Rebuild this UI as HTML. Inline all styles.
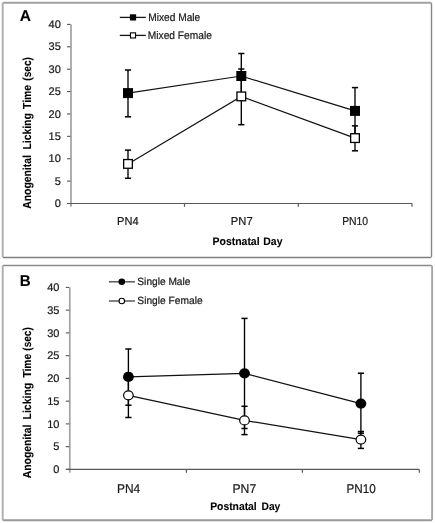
<!DOCTYPE html>
<html><head><meta charset="utf-8"><title>Anogenital Licking Time</title>
<style>
html,body{margin:0;padding:0;background:#fff;}
body{width:435px;height:523px;overflow:hidden;}
svg{display:block;font-family:"Liberation Sans", sans-serif;will-change:transform;text-rendering:geometricPrecision;}
text{white-space:pre;}
.r{stroke:#1a1a1a;stroke-width:0.22px;}
.b{stroke:#000;stroke-width:0.1px;}
</style></head><body>
<svg width="435" height="523" viewBox="0 0 435 523">
<rect x="0" y="0" width="435" height="523" fill="#fff"/>
<line x1="2.7" y1="3.6" x2="2.7" y2="256.5" stroke="#adadad" stroke-width="1.9" stroke-linecap="round"/>
<line x1="3.6" y1="2.8" x2="430.6" y2="2.8" stroke="#a2a2a2" stroke-width="1.9" stroke-linecap="round"/>
<line x1="431.5" y1="3.6" x2="431.5" y2="256.6" stroke="#868686" stroke-width="1.4" stroke-linecap="round"/>
<line x1="3.6" y1="257.5" x2="430.6" y2="257.5" stroke="#7e7e7e" stroke-width="1.4" stroke-linecap="round"/>
<text transform="translate(25.31,20.8) scale(1.0005,1)" text-anchor="middle" font-size="15.5" font-weight="bold" fill="#000" class="b">A</text>
<line x1="71" y1="24.4" x2="71" y2="206.8" stroke="#a6a6a6" stroke-width="1.8"/>
<line x1="67" y1="203.50" x2="70.5" y2="203.50" stroke="#555" stroke-width="1.1"/>
<text x="60.8" y="207.10" font-size="11" text-anchor="end" fill="#1a1a1a" class="r">0</text>
<line x1="67" y1="181.11" x2="70.5" y2="181.11" stroke="#555" stroke-width="1.1"/>
<text x="60.8" y="184.71" font-size="11" text-anchor="end" fill="#1a1a1a" class="r">5</text>
<line x1="67" y1="158.72" x2="70.5" y2="158.72" stroke="#555" stroke-width="1.1"/>
<text x="60.8" y="162.32" font-size="11" text-anchor="end" fill="#1a1a1a" class="r">10</text>
<line x1="67" y1="136.34" x2="70.5" y2="136.34" stroke="#555" stroke-width="1.1"/>
<text x="60.8" y="139.94" font-size="11" text-anchor="end" fill="#1a1a1a" class="r">15</text>
<line x1="67" y1="113.95" x2="70.5" y2="113.95" stroke="#555" stroke-width="1.1"/>
<text x="60.8" y="117.55" font-size="11" text-anchor="end" fill="#1a1a1a" class="r">20</text>
<line x1="67" y1="91.56" x2="70.5" y2="91.56" stroke="#555" stroke-width="1.1"/>
<text x="60.8" y="95.16" font-size="11" text-anchor="end" fill="#1a1a1a" class="r">25</text>
<line x1="67" y1="69.18" x2="70.5" y2="69.18" stroke="#555" stroke-width="1.1"/>
<text x="60.8" y="72.78" font-size="11" text-anchor="end" fill="#1a1a1a" class="r">30</text>
<line x1="67" y1="46.79" x2="70.5" y2="46.79" stroke="#555" stroke-width="1.1"/>
<text x="60.8" y="50.39" font-size="11" text-anchor="end" fill="#1a1a1a" class="r">35</text>
<line x1="67" y1="24.40" x2="70.5" y2="24.40" stroke="#555" stroke-width="1.1"/>
<text x="60.8" y="28.00" font-size="11" text-anchor="end" fill="#1a1a1a" class="r">40</text>
<line x1="67.2" y1="203.5" x2="412" y2="203.5" stroke="#5a5a5a" stroke-width="1.2"/>
<line x1="184.5" y1="203.5" x2="184.5" y2="206.8" stroke="#5a5a5a" stroke-width="1.2"/>
<line x1="298.3" y1="203.5" x2="298.3" y2="206.8" stroke="#5a5a5a" stroke-width="1.2"/>
<line x1="412" y1="203.5" x2="412" y2="206.8" stroke="#5a5a5a" stroke-width="1.2"/>
<text transform="translate(127.83,224.8) scale(0.9634,1)" text-anchor="middle" font-size="11.5" fill="#1a1a1a" class="r">PN4</text>
<text transform="translate(241.73,224.8) scale(0.9709,1)" text-anchor="middle" font-size="11.5" fill="#1a1a1a" class="r">PN7</text>
<text transform="translate(355.12,224.8) scale(0.9023,1)" text-anchor="middle" font-size="11.5" fill="#1a1a1a" class="r">PN10</text>
<text transform="translate(236.05,244.9) scale(0.9508,1)" text-anchor="middle" font-size="11" font-weight="bold" fill="#000" class="b">Postnatal</text>
<text transform="translate(272.88,244.9) scale(0.9490,1)" text-anchor="middle" font-size="11" font-weight="bold" fill="#000" class="b">Day</text>
<text transform="translate(31.2,208.70) rotate(-90)" font-size="11.6" font-weight="bold" fill="#000" class="b" textLength="53.50" lengthAdjust="spacingAndGlyphs">Anogenital</text>
<text transform="translate(31.2,149.60) rotate(-90)" font-size="11.6" font-weight="bold" fill="#000" class="b" textLength="36.40" lengthAdjust="spacingAndGlyphs">Licking</text>
<text transform="translate(31.2,109.00) rotate(-90)" font-size="11.6" font-weight="bold" fill="#000" class="b" textLength="24.00" lengthAdjust="spacingAndGlyphs">Time</text>
<text transform="translate(31.2,80.70) rotate(-90)" font-size="11.6" font-weight="bold" fill="#000" class="b" textLength="23.70" lengthAdjust="spacingAndGlyphs">(sec)</text>
<polyline points="128,93.1 241.3,76 355,110.9" fill="none" stroke="#111" stroke-width="1.2"/>
<polyline points="128,163.9 241.3,96.4 355,138.1" fill="none" stroke="#111" stroke-width="1.2"/>
<line x1="128" y1="70" x2="128" y2="116.8" stroke="#000" stroke-width="1.35"/>
<line x1="124.9" y1="70" x2="131.1" y2="70" stroke="#000" stroke-width="1.5"/>
<line x1="124.9" y1="116.8" x2="131.1" y2="116.8" stroke="#000" stroke-width="1.5"/>
<line x1="241.3" y1="53.5" x2="241.3" y2="98.5" stroke="#000" stroke-width="1.35"/>
<line x1="238.20000000000002" y1="53.5" x2="244.4" y2="53.5" stroke="#000" stroke-width="1.5"/>
<line x1="238.20000000000002" y1="98.5" x2="244.4" y2="98.5" stroke="#000" stroke-width="1.5"/>
<line x1="355" y1="87.6" x2="355" y2="134" stroke="#000" stroke-width="1.35"/>
<line x1="351.9" y1="87.6" x2="358.1" y2="87.6" stroke="#000" stroke-width="1.5"/>
<line x1="351.9" y1="134" x2="358.1" y2="134" stroke="#000" stroke-width="1.5"/>
<line x1="128" y1="150.1" x2="128" y2="178.3" stroke="#000" stroke-width="1.35"/>
<line x1="124.9" y1="150.1" x2="131.1" y2="150.1" stroke="#000" stroke-width="1.5"/>
<line x1="124.9" y1="178.3" x2="131.1" y2="178.3" stroke="#000" stroke-width="1.5"/>
<line x1="241.3" y1="69" x2="241.3" y2="124.7" stroke="#000" stroke-width="1.35"/>
<line x1="238.20000000000002" y1="69" x2="244.4" y2="69" stroke="#000" stroke-width="1.5"/>
<line x1="238.20000000000002" y1="124.7" x2="244.4" y2="124.7" stroke="#000" stroke-width="1.5"/>
<line x1="355" y1="125.9" x2="355" y2="150.8" stroke="#000" stroke-width="1.35"/>
<line x1="351.9" y1="125.9" x2="358.1" y2="125.9" stroke="#000" stroke-width="1.5"/>
<line x1="351.9" y1="150.8" x2="358.1" y2="150.8" stroke="#000" stroke-width="1.5"/>
<rect x="123.0" y="88.1" width="10" height="10" fill="#000"/>
<rect x="236.3" y="71.0" width="10" height="10" fill="#000"/>
<rect x="350.0" y="105.9" width="10" height="10" fill="#000"/>
<rect x="123.65" y="159.55" width="8.7" height="8.7" fill="#fff" stroke="#000" stroke-width="1.3"/>
<rect x="236.95000000000002" y="92.05000000000001" width="8.7" height="8.7" fill="#fff" stroke="#000" stroke-width="1.3"/>
<rect x="350.65" y="133.75" width="8.7" height="8.7" fill="#fff" stroke="#000" stroke-width="1.3"/>
<line x1="119.8" y1="17.4" x2="145.8" y2="17.4" stroke="#151515" stroke-width="1.3"/>
<rect x="129.9" y="14.299999999999999" width="6.2" height="6.2" fill="#000"/>
<text transform="translate(174.23,20.7) scale(0.9258,1)" text-anchor="middle" font-size="11" fill="#1a1a1a" class="r">Mixed Male</text>
<line x1="119.8" y1="35.4" x2="145.8" y2="35.4" stroke="#151515" stroke-width="1.3"/>
<rect x="130.45000000000002" y="32.849999999999994" width="5.1" height="5.1" fill="#fff" stroke="#000" stroke-width="1.1"/>
<text transform="translate(179.81,38.7) scale(0.9264,1)" text-anchor="middle" font-size="11" fill="#1a1a1a" class="r">Mixed Female</text>
<line x1="2.7" y1="266.4" x2="2.7" y2="519.2" stroke="#adadad" stroke-width="1.9" stroke-linecap="round"/>
<line x1="3.6" y1="265.5" x2="431.2" y2="265.5" stroke="#8a8a8a" stroke-width="1.4" stroke-linecap="round"/>
<line x1="432.1" y1="266.4" x2="432.1" y2="519.2" stroke="#a6a6a6" stroke-width="1.9" stroke-linecap="round"/>
<line x1="3.6" y1="520.2" x2="431.2" y2="520.2" stroke="#9a9a9a" stroke-width="1.9" stroke-linecap="round"/>
<text transform="translate(25.11,286.0) scale(0.9764,1)" text-anchor="middle" font-size="15.5" font-weight="bold" fill="#000" class="b">B</text>
<line x1="69.8" y1="287.4" x2="69.8" y2="472.7" stroke="#a6a6a6" stroke-width="1.8"/>
<line x1="65.8" y1="469.40" x2="69.3" y2="469.40" stroke="#555" stroke-width="1.1"/>
<text x="59.4" y="473.00" font-size="11" text-anchor="end" fill="#1a1a1a" class="r">0</text>
<line x1="65.8" y1="446.65" x2="69.3" y2="446.65" stroke="#555" stroke-width="1.1"/>
<text x="59.4" y="450.25" font-size="11" text-anchor="end" fill="#1a1a1a" class="r">5</text>
<line x1="65.8" y1="423.90" x2="69.3" y2="423.90" stroke="#555" stroke-width="1.1"/>
<text x="59.4" y="427.50" font-size="11" text-anchor="end" fill="#1a1a1a" class="r">10</text>
<line x1="65.8" y1="401.15" x2="69.3" y2="401.15" stroke="#555" stroke-width="1.1"/>
<text x="59.4" y="404.75" font-size="11" text-anchor="end" fill="#1a1a1a" class="r">15</text>
<line x1="65.8" y1="378.40" x2="69.3" y2="378.40" stroke="#555" stroke-width="1.1"/>
<text x="59.4" y="382.00" font-size="11" text-anchor="end" fill="#1a1a1a" class="r">20</text>
<line x1="65.8" y1="355.65" x2="69.3" y2="355.65" stroke="#555" stroke-width="1.1"/>
<text x="59.4" y="359.25" font-size="11" text-anchor="end" fill="#1a1a1a" class="r">25</text>
<line x1="65.8" y1="332.90" x2="69.3" y2="332.90" stroke="#555" stroke-width="1.1"/>
<text x="59.4" y="336.50" font-size="11" text-anchor="end" fill="#1a1a1a" class="r">30</text>
<line x1="65.8" y1="310.15" x2="69.3" y2="310.15" stroke="#555" stroke-width="1.1"/>
<text x="59.4" y="313.75" font-size="11" text-anchor="end" fill="#1a1a1a" class="r">35</text>
<line x1="65.8" y1="287.40" x2="69.3" y2="287.40" stroke="#555" stroke-width="1.1"/>
<text x="59.4" y="291.00" font-size="11" text-anchor="end" fill="#1a1a1a" class="r">40</text>
<line x1="66.0" y1="469.4" x2="419.3" y2="469.4" stroke="#5a5a5a" stroke-width="1.2"/>
<line x1="186.4" y1="469.4" x2="186.4" y2="472.7" stroke="#5a5a5a" stroke-width="1.2"/>
<line x1="302.4" y1="469.4" x2="302.4" y2="472.7" stroke="#5a5a5a" stroke-width="1.2"/>
<line x1="419.3" y1="469.4" x2="419.3" y2="472.7" stroke="#5a5a5a" stroke-width="1.2"/>
<text transform="translate(128.54,492.5) scale(0.9328,1)" text-anchor="middle" font-size="12.8" fill="#1a1a1a" class="r">PN4</text>
<text transform="translate(244.35,492.5) scale(0.9510,1)" text-anchor="middle" font-size="12.8" fill="#1a1a1a" class="r">PN7</text>
<text transform="translate(361.09,492.5) scale(0.9139,1)" text-anchor="middle" font-size="12.8" fill="#1a1a1a" class="r">PN10</text>
<text transform="translate(233.47,510.0) scale(0.9391,1)" text-anchor="middle" font-size="11" font-weight="bold" fill="#000" class="b">Postnatal</text>
<text transform="translate(270.88,510.0) scale(0.9315,1)" text-anchor="middle" font-size="11" font-weight="bold" fill="#000" class="b">Day</text>
<text transform="translate(31.2,478.20) rotate(-90)" font-size="11.6" font-weight="bold" fill="#000" class="b" textLength="53.50" lengthAdjust="spacingAndGlyphs">Anogenital</text>
<text transform="translate(31.2,419.50) rotate(-90)" font-size="11.6" font-weight="bold" fill="#000" class="b" textLength="36.70" lengthAdjust="spacingAndGlyphs">Licking</text>
<text transform="translate(31.2,377.60) rotate(-90)" font-size="11.6" font-weight="bold" fill="#000" class="b" textLength="23.80" lengthAdjust="spacingAndGlyphs">Time</text>
<text transform="translate(31.2,350.70) rotate(-90)" font-size="11.6" font-weight="bold" fill="#000" class="b" textLength="23.50" lengthAdjust="spacingAndGlyphs">(sec)</text>
<polyline points="128.4,376.9 244.5,373.3 360.9,403.6" fill="none" stroke="#111" stroke-width="1.2"/>
<polyline points="128.4,395.3 244.5,420.4 360.9,439.6" fill="none" stroke="#111" stroke-width="1.2"/>
<line x1="128.4" y1="349" x2="128.4" y2="405.2" stroke="#000" stroke-width="1.35"/>
<line x1="125.30000000000001" y1="349" x2="131.5" y2="349" stroke="#000" stroke-width="1.5"/>
<line x1="125.30000000000001" y1="405.2" x2="131.5" y2="405.2" stroke="#000" stroke-width="1.5"/>
<line x1="244.5" y1="318.4" x2="244.5" y2="428.5" stroke="#000" stroke-width="1.35"/>
<line x1="241.4" y1="318.4" x2="247.6" y2="318.4" stroke="#000" stroke-width="1.5"/>
<line x1="241.4" y1="428.5" x2="247.6" y2="428.5" stroke="#000" stroke-width="1.5"/>
<line x1="360.9" y1="373.2" x2="360.9" y2="433.2" stroke="#000" stroke-width="1.35"/>
<line x1="357.79999999999995" y1="373.2" x2="364.0" y2="373.2" stroke="#000" stroke-width="1.5"/>
<line x1="357.79999999999995" y1="433.2" x2="364.0" y2="433.2" stroke="#000" stroke-width="1.5"/>
<line x1="128.4" y1="373.5" x2="128.4" y2="417.5" stroke="#000" stroke-width="1.35"/>
<line x1="125.30000000000001" y1="373.5" x2="131.5" y2="373.5" stroke="#000" stroke-width="1.5"/>
<line x1="125.30000000000001" y1="417.5" x2="131.5" y2="417.5" stroke="#000" stroke-width="1.5"/>
<line x1="244.5" y1="406.3" x2="244.5" y2="434.6" stroke="#000" stroke-width="1.35"/>
<line x1="241.4" y1="406.3" x2="247.6" y2="406.3" stroke="#000" stroke-width="1.5"/>
<line x1="241.4" y1="434.6" x2="247.6" y2="434.6" stroke="#000" stroke-width="1.5"/>
<line x1="360.9" y1="431.5" x2="360.9" y2="448.4" stroke="#000" stroke-width="1.35"/>
<line x1="357.79999999999995" y1="431.5" x2="364.0" y2="431.5" stroke="#000" stroke-width="1.5"/>
<line x1="357.79999999999995" y1="448.4" x2="364.0" y2="448.4" stroke="#000" stroke-width="1.5"/>
<ellipse cx="128.4" cy="376.9" rx="5.41" ry="5.10" fill="#000"/>
<ellipse cx="244.5" cy="373.3" rx="5.41" ry="5.10" fill="#000"/>
<ellipse cx="360.9" cy="403.6" rx="5.41" ry="5.10" fill="#000"/>
<ellipse cx="128.4" cy="395.3" rx="4.81" ry="4.50" fill="#fff" stroke="#000" stroke-width="1.2"/>
<ellipse cx="244.5" cy="420.4" rx="4.81" ry="4.50" fill="#fff" stroke="#000" stroke-width="1.2"/>
<ellipse cx="360.9" cy="439.6" rx="4.81" ry="4.50" fill="#fff" stroke="#000" stroke-width="1.2"/>
<line x1="108.9" y1="281.8" x2="134.9" y2="281.8" stroke="#5a5a5a" stroke-width="1.5"/>
<ellipse cx="121.8" cy="281.8" rx="3.30" ry="3.30" fill="#000"/>
<text transform="translate(163.88,285.2) scale(0.9669,1)" text-anchor="middle" font-size="10.5" fill="#1a1a1a" class="r">Single Male</text>
<line x1="108.9" y1="301.0" x2="134.9" y2="301.0" stroke="#5a5a5a" stroke-width="1.5"/>
<ellipse cx="121.8" cy="301.0" rx="2.75" ry="2.75" fill="#fff" stroke="#000" stroke-width="1.1"/>
<text transform="translate(169.97,304.2) scale(0.9725,1)" text-anchor="middle" font-size="10.5" fill="#1a1a1a" class="r">Single Female</text>
</svg>
</body></html>
